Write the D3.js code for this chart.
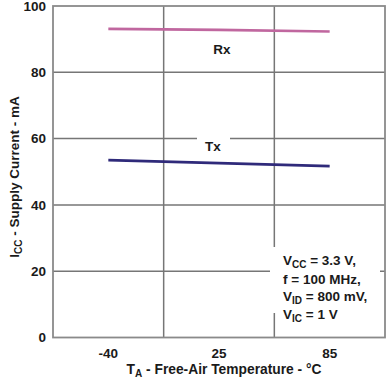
<!DOCTYPE html>
<html><head><meta charset="utf-8">
<script src="https://cdn.jsdelivr.net/npm/d3@7"></script>
<style>body{margin:0;background:#fff}svg{display:block}text{font-family:"Liberation Sans",Arial,sans-serif;font-weight:bold;fill:#1a1a1a}</style>
</head><body>
<script>
const categories = ["-40", "25", "85"];
const yTicks = [0, 20, 40, 60, 80, 100];
const rxValues = [93.1, 92.8, 92.3];
const txValues = [53.5, 52.6, 51.7];

const W = 386, H = 386;
const m = {left: 53, right: 1, top: 6, bottom: 48.5};
const svg = d3.select("body").append("svg").attr("width", W).attr("height", H);
const x = d3.scaleBand().domain(categories).range([m.left, W - m.right]).padding(0);
const y = d3.scaleLinear().domain([0, 100]).range([H - m.bottom, m.top]);
const cx = d => x(d) + x.bandwidth() / 2;
const grid = "#767676";

svg.append("g").selectAll("line").data(yTicks.slice(1, -1)).join("line")
  .attr("x1", m.left).attr("x2", W - m.right)
  .attr("y1", d => y(d)).attr("y2", d => y(d))
  .attr("stroke", grid).attr("stroke-width", 1.5);
svg.append("g").selectAll("line").data(categories.slice(1)).join("line")
  .attr("x1", d => x(d)).attr("x2", d => x(d))
  .attr("y1", m.top).attr("y2", H - m.bottom)
  .attr("stroke", grid).attr("stroke-width", 1.5);

svg.append("rect").attr("x", m.left).attr("y", m.top)
  .attr("width", W - m.right - m.left).attr("height", H - m.bottom - m.top)
  .attr("fill", "none").attr("stroke", "#8a8a8a").attr("stroke-width", 1.8);

const yAxis = d3.axisLeft(y).tickValues(yTicks).tickSize(0).tickPadding(7);
const gy = svg.append("g").attr("transform", `translate(${m.left},0)`).call(yAxis);
gy.select(".domain").remove();
gy.selectAll("text").style("font-size", "13.5px").style("font-family", "'Liberation Sans',Arial,sans-serif").style("font-weight", "bold").attr("fill", "#1a1a1a");

const xAxis = d3.axisBottom(x).tickSize(0).tickPadding(11);
const gx = svg.append("g").attr("transform", `translate(0,${H - m.bottom})`).call(xAxis);
gx.select(".domain").remove();
gx.selectAll("text").style("font-size", "13.5px").style("font-family", "'Liberation Sans',Arial,sans-serif").style("font-weight", "bold").attr("fill", "#1a1a1a");

svg.append("rect").attr("x", 197).attr("y", y(60) - 4).attr("width", 33).attr("height", 10).attr("fill", "#fff");

const line = d3.line().x((d, i) => cx(categories[i])).y(d => y(d));
svg.append("path").datum(rxValues).attr("d", line).attr("fill", "none")
  .attr("stroke", "#c0679f").attr("stroke-width", 2.6);
svg.append("path").datum(txValues).attr("d", line).attr("fill", "none")
  .attr("stroke", "#2f2a7a").attr("stroke-width", 2.6);

svg.append("text").attr("x", 222).attr("y", 54).attr("text-anchor", "middle").style("font-size", "13.5px").text("Rx");
svg.append("text").attr("x", 213).attr("y", 151).attr("text-anchor", "middle").style("font-size", "13.5px").text("Tx");

svg.append("rect").attr("x", 270).attr("y", 247).attr("width", 110).attr("height", 66).attr("fill", "#fff");
const ann = [
  [["V", 0], ["CC", 1], [" = 3.3 V,", 0]],
  [["f = 100 MHz,", 0]],
  [["V", 0], ["ID", 1], [" = 800 mV,", 0]],
  [["V", 0], ["IC", 1], [" = 1 V", 0]]
];
const annY = [265, 284, 301, 319];
ann.forEach((parts, i) => {
  const t = svg.append("text").attr("x", 283).attr("y", annY[i]).style("font-size", "13.5px");
  parts.forEach(([s, sub], j) => {
    const ts = t.append("tspan").text(s);
    if (sub) ts.style("font-size", "10px").attr("dy", 3);
    else if (j > 0) ts.attr("dy", -3);
  });
});

const xt = svg.append("text").attr("x", 224).attr("y", 374).attr("text-anchor", "middle").style("font-size", "13.8px");
xt.append("tspan").text("T");
xt.append("tspan").text("A").style("font-size", "10px").attr("dy", 3);
xt.append("tspan").text(" - Free-Air Temperature - °C").attr("dy", -3);

const yt = svg.append("text").attr("transform", "translate(19,177) rotate(-90)").attr("text-anchor", "middle").style("font-size", "13.5px");
yt.append("tspan").text("I");
yt.append("tspan").text("CC").style("font-size", "10px").attr("dy", 3);
yt.append("tspan").text(" - Supply Current - mA").attr("dy", -3);
</script>
</body></html>
